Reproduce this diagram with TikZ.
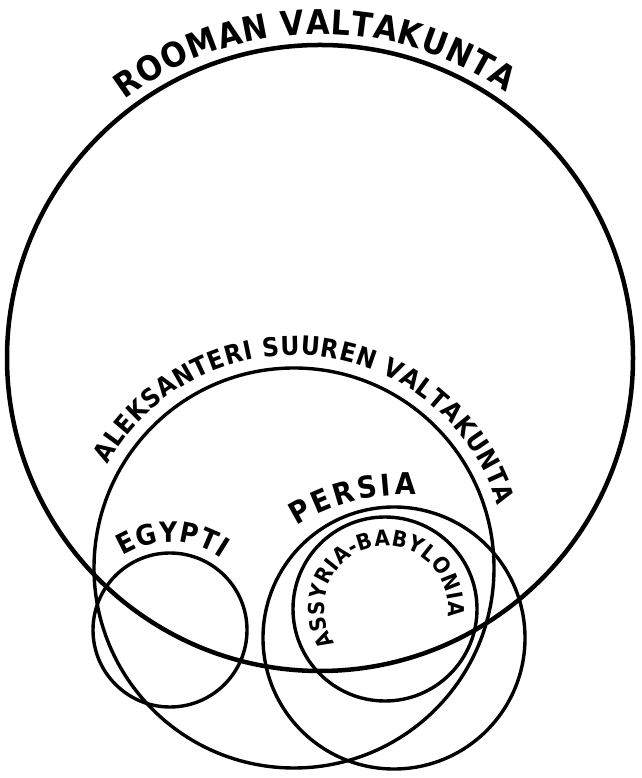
\documentclass[tikz,border=0pt]{standalone}
\usepackage{fontspec}
\usetikzlibrary{decorations.text}
\newfontfamily\handfont[FakeStretch=0.9]{DejaVu Sans}
\begin{document}
\begin{tikzpicture}[x=1pt,y=1pt,
  ring/.style={draw, circle, inner sep=0pt, outer sep=0pt, line width=3.4pt}]
\fill[white] (0,0) rectangle (641,778);
\useasboundingbox (0,0) rectangle (641,778);
% circles (y measured upward: y = 778 - image y)
\node[ring, line width=4.5pt, minimum size=626pt] (rome) at (320,420) {};
\node[ring, minimum size=400pt] (alex) at (294,210) {};
\node[ring, minimum size=154pt] (egypt) at (170,148) {};
\node[ring, minimum size=262pt] (persia) at (394,140) {};
\node[ring, minimum size=184pt] (assyria) at (385,169) {};
% lettering
\path[decorate, decoration={text along path, text align=fit to path,
  text={|\handfont\bfseries\fontsize{34}{34}\selectfont|ROOMAN VALTAKUNTA}}]
  (320,420) ++(127:324pt) arc[start angle=127, end angle=55, radius=324pt];
\path[decorate, decoration={text along path, text align=fit to path,
  text={|\handfont\bfseries\fontsize{26}{26}\selectfont|ALEKSANTERI SUUREN VALTAKUNTA}}]
  (294,210) ++(151:213pt) arc[start angle=151, end angle=17, radius=213pt];
\path[decorate, decoration={text along path, text align=fit to path,
  text={|\handfont\bfseries\fontsize{28}{28}\selectfont|EGYPTI}}]
  (170,146) ++(122:90pt) arc[start angle=122, end angle=55, radius=90pt];
\path[decorate, decoration={text along path, text align=fit to path,
  text={|\handfont\bfseries\fontsize{30}{30}\selectfont|PERSIA}}]
  (405,78) ++(122:205pt) arc[start angle=122, end angle=87, radius=205pt];
\path[decorate, decoration={text along path, text align=fit to path,
  text={|\handfont\bfseries\fontsize{22}{22}\selectfont|ASSYRIA-BABYLONIA}}]
  (386,170) ++(215:62pt) arc[start angle=215, end angle=-8, radius=62pt];
\end{tikzpicture}
\end{document}
